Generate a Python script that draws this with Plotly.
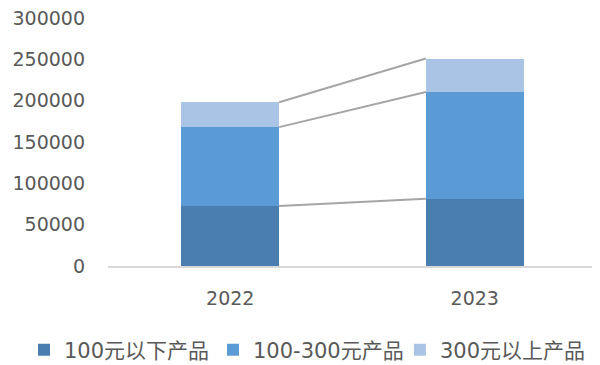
import plotly.graph_objects as go

years = ["2022", "2023"]
series_names = ["100元以下产品", "100-300元产品", "300元以上产品"]
below_100 = [72500, 81500]
mid_100_300 = [95500, 129000]
above_300 = [30000, 40500]
y_ticks = [0, 50000, 100000, 150000, 200000, 250000, 300000]

colors = ["#4A7EB1", "#5B9BD5", "#A9C4E4"]
legend_ids = ["legend", "legend2", "legend3"]
legend_x = [-0.1718, 0.2147, 0.597]
bar_width = 0.4
series = [below_100, mid_100_300, above_300]

fig = go.Figure()
xs = list(range(len(years)))
for name, vals, c, lg in zip(series_names, series, colors, legend_ids):
    fig.add_trace(go.Bar(x=xs, y=vals, name=name, marker=dict(color=c, line=dict(width=0)),
                         width=bar_width, legend=lg))

# connector lines between cumulative tops
cum = [0, 0]
for vals in series:
    cum = [a + b for a, b in zip(cum, vals)]
    fig.add_trace(go.Scatter(x=[xs[0] + bar_width / 2, xs[1] - bar_width / 2], y=cum,
                             mode="lines", line=dict(color="#A5A5A5", width=2),
                             showlegend=False, hoverinfo="skip"))

legend_common = dict(orientation="h", xanchor="left", y=-0.339, yanchor="middle",
                     font=dict(size=21, color="#595959",
                               family="DejaVu Sans, Noto Sans CJK SC"),
                     itemwidth=30, bgcolor="rgba(0,0,0,0)", borderwidth=0)
legend_layout = {lg: dict(x=lx, **legend_common) for lg, lx in zip(legend_ids, legend_x)}

# page body adds an 8px margin, so the figure is 8px smaller on each axis
fig.update_layout(
    width=592, height=357,
    margin=dict(l=100, r=3, t=10, b=99, autoexpand=False),
    barmode="stack",
    plot_bgcolor="white", paper_bgcolor="white",
    font=dict(family="DejaVu Sans, Noto Sans CJK SC", color="#595959", size=19),
    showlegend=True,
    **legend_layout,
)
fig.update_xaxes(tickmode="array", tickvals=xs, ticktext=years, range=[-0.5, 1.5],
                 showline=True, linecolor="#D9D9D9", linewidth=2, showgrid=False,
                 zeroline=False, ticks="", ticklabelstandoff=14)
fig.update_yaxes(range=[0, 300000], tickvals=y_ticks, tickformat="d", showgrid=False,
                 zeroline=False, showline=False, ticks="", ticklabelstandoff=22,
                 ticklabeloverflow="allow")

fig.write_html("out.html")
